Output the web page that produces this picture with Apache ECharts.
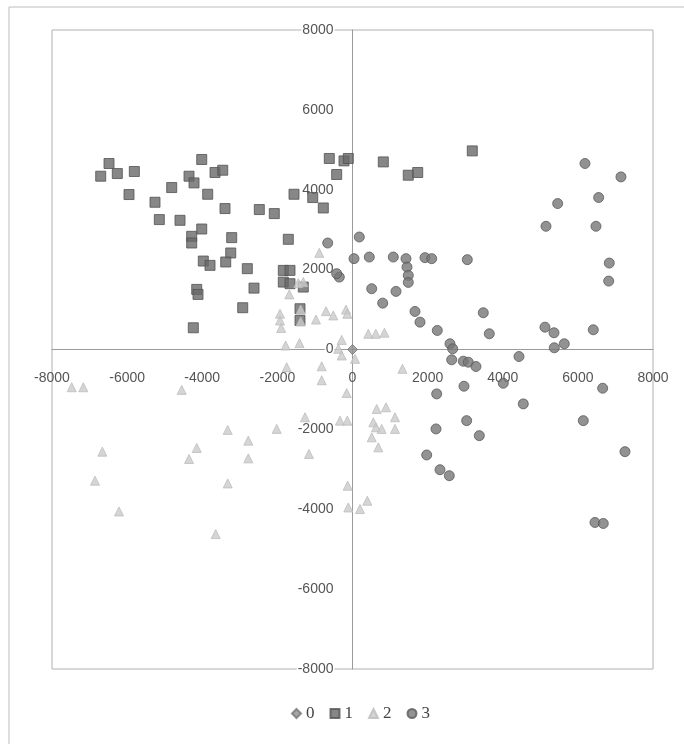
<!DOCTYPE html>
<html>
<head>
<meta charset="utf-8">
<script src="https://cdn.jsdelivr.net/npm/echarts@6/dist/echarts.min.js"></script>
<style>
  html, body { margin: 0; padding: 0; background: #fff; }
  #chart { width: 684px; height: 744px; }
</style>
</head>
<body>
<div id="chart"></div>
<script>
// Cluster names and points (x, y) for each of the four groups
const seriesNames = ['0', '1', '2', '3'];

const cluster0 = [[0, 0]];

const cluster1 = [
  [-6482, 4657], [-6703, 4339], [-6261, 4406], [-5808, 4457], [-4014, 4758],
  [-4352, 4339], [-4219, 4171], [-3660, 4432], [-3455, 4489], [-4813, 4055],
  [-5950, 3880], [-3855, 3887], [-5258, 3687], [-3394, 3529], [-2481, 3504],
  [-2082, 3403], [-1557, 3887], [-1059, 3805], [-777, 3544], [-618, 4783],
  [-226, 4723], [-112, 4783], [-421, 4382], [-5143, 3253], [-4592, 3235],
  [-4014, 3017], [-4281, 2834], [-4281, 2666], [-3216, 2801], [-3242, 2417],
  [-3375, 2191], [-3972, 2215], [-3793, 2107], [-1709, 2759], [-2800, 2024],
  [-2622, 1537], [-2923, 1046], [-4147, 1505], [-4113, 1379], [-4238, 544],
  [-1842, 1981], [-1664, 1981], [-1842, 1688], [-1664, 1648], [-1310, 1563],
  [-1398, 1021], [-1398, 727], [820, 4697], [1485, 4364], [1736, 4432],
  [3189, 4973]
];

const cluster2 = [
  [-884, 2420], [-1310, 1688], [-1443, 1663], [-1682, 1380], [-1930, 895],
  [-1930, 727], [-1900, 540], [-1379, 1000], [-1379, 700], [-972, 750],
  [-705, 960], [-511, 853], [-173, 1000], [-138, 895], [421, 394],
  [620, 394], [850, 420], [-1780, 100], [-1410, 160], [-288, 240],
  [-377, 18], [-288, -150], [67, -234], [-820, -420], [-1752, -444],
  [-820, -770], [-155, -1090], [1330, -485], [-1265, -1697], [-2018, -1989],
  [-333, -1781], [-138, -1781], [644, -1488], [892, -1447], [1131, -1697],
  [1131, -1989], [554, -1823], [626, -1948], [777, -1989], [511, -2199],
  [687, -2450], [-1160, -2616], [-128, -3411], [-112, -3955], [200, -3995],
  [394, -3787], [-7475, -945], [-7166, -945], [-4547, -1011], [-3322, -2014],
  [-2774, -2282], [-2774, -2726], [-4147, -2465], [-4352, -2741], [-6660, -2558],
  [-6855, -3285], [-3322, -3353], [-6216, -4055], [-3642, -4622]
];

const cluster3 = [
  [6189, 4657], [7147, 4322], [5462, 3654], [6553, 3805], [5151, 3085],
  [6482, 3085], [6836, 2164], [6820, 1713], [181, 2817], [40, 2275],
  [447, 2315], [1086, 2315], [1424, 2275], [1451, 2064], [1485, 1856],
  [1485, 1680], [1930, 2300], [2108, 2275], [3056, 2250], [1158, 1455],
  [804, 1161], [1664, 953], [1797, 685], [2257, 477], [3482, 920],
  [3642, 394], [2595, 143], [2667, 18], [5124, 559], [5364, 419],
  [5372, 43], [5638, 143], [511, 1522], [6410, 494], [2641, -258],
  [2950, -293], [3083, -318], [3287, -426], [4432, -176], [2968, -920],
  [2241, -1112], [4014, -845], [4547, -1362], [6660, -970], [3039, -1781],
  [3376, -2157], [2223, -1989], [6144, -1781], [7254, -2558], [1975, -2641],
  [2329, -3010], [2577, -3160], [6455, -4331], [6677, -4356], [-660, 2666],
  [-351, 1813], [-421, 1899]
];

const axisMin = -8000;
const axisMax = 8000;
const axisStep = 2000;

// Plot box in pixels; the axes are shifted so they cross at (0, 0)
const gridBox = { left: 52, right: 31, top: 30, bottom: 75 };
const plotW = 684 - gridBox.left - gridBox.right;
const plotH = 744 - gridBox.top - gridBox.bottom;

const chart = echarts.init(document.getElementById('chart'), null, { renderer: 'canvas' });

const labelFont = {
  fontFamily: 'Liberation Sans, Arial, sans-serif',
  fontSize: 14,
  color: '#555'
};
const plain = v => String(v);

chart.setOption({
  animation: false,
  backgroundColor: '#fff',
  graphic: [{
    type: 'rect',
    shape: { x: 9, y: 7, width: 700, height: 780 },
    style: { fill: 'none', stroke: '#bdbdbd', lineWidth: 1 },
    silent: true,
    z: -1
  }],
  grid: Object.assign({
    show: true,
    borderColor: '#b0b0b0',
    borderWidth: 1,
    backgroundColor: 'transparent'
  }, gridBox),
  legend: {
    data: seriesNames,
    bottom: 17,
    left: 286,
    itemWidth: 9,
    itemHeight: 9,
    itemGap: 15,
    textStyle: {
      fontFamily: 'Liberation Serif, Times New Roman, serif',
      fontSize: 17,
      color: '#444'
    }
  },
  xAxis: {
    type: 'value',
    position: 'bottom',
    offset: -plotH / 2,
    min: axisMin, max: axisMax, interval: axisStep,
    axisLine: { onZero: false, lineStyle: { color: '#9a9a9a', width: 1 } },
    axisTick: { show: false },
    splitLine: { show: false },
    axisLabel: Object.assign({ margin: 22, formatter: plain,
      showMinLabel: true, showMaxLabel: true }, labelFont)
  },
  yAxis: {
    type: 'value',
    position: 'left',
    offset: -plotW / 2,
    min: axisMin, max: axisMax, interval: axisStep,
    axisLine: { onZero: false, lineStyle: { color: '#9a9a9a', width: 1 } },
    axisTick: { show: false },
    splitLine: { show: false },
    axisLabel: Object.assign({ margin: 18, formatter: plain,
      showMinLabel: true, showMaxLabel: true,
      backgroundColor: '#fff', padding: [0, 1] }, labelFont)
  },
  series: [
    {
      name: seriesNames[0], type: 'scatter', data: cluster0,
      symbol: 'diamond', symbolSize: 10,
      itemStyle: { color: '#8e8e8e', borderColor: '#777', borderWidth: 1 },
      z: 5
    },
    {
      name: seriesNames[1], type: 'scatter', data: cluster1,
      symbol: 'rect', symbolSize: 10,
      itemStyle: { color: '#696969', borderColor: '#525252', borderWidth: 1 },
      z: 3
    },
    {
      name: seriesNames[2], type: 'scatter', data: cluster2,
      symbol: 'triangle', symbolSize: 9,
      itemStyle: { color: '#cacaca', borderColor: '#bdbdbd', borderWidth: 1 },
      z: 4
    },
    {
      name: seriesNames[3], type: 'scatter', data: cluster3,
      symbol: 'circle', symbolSize: 10,
      itemStyle: { color: '#777777', borderColor: '#5a5a5a', borderWidth: 1 },
      z: 2
    }
  ]
});
</script>
</body>
</html>
